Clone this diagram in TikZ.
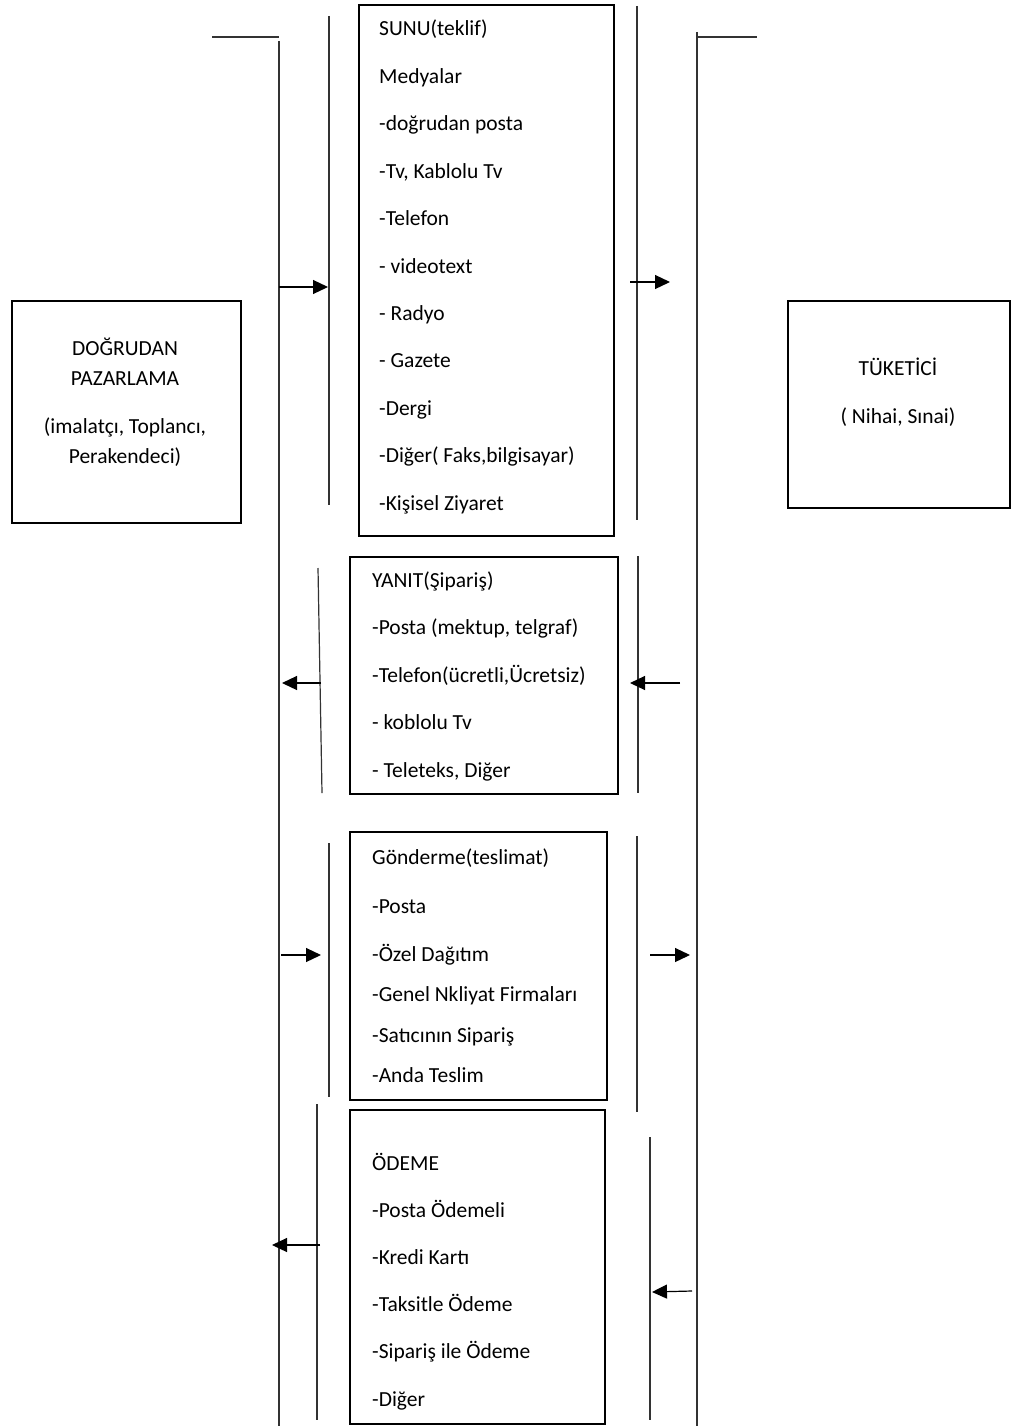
\documentclass[tikz,border=0pt]{standalone}
\usepackage{fontspec}
\setmainfont{Carlito}
\usetikzlibrary{arrows.meta}
\begin{document}
\begin{tikzpicture}[x=1pt,y=-1pt,
  box/.style={draw,line width=2pt,inner sep=0pt,anchor=north west},
  vline/.style={line width=1.2pt,draw=black!80},
  arr/.style={line width=1.2pt,-{Triangle[length=15pt,width=14pt]}},
  txt/.style={inner sep=0pt,anchor=base west,font=\fontsize{21.5}{25}\selectfont},
  ctxt/.style={inner sep=0pt,anchor=base,font=\fontsize{21.5}{25}\selectfont}]
\useasboundingbox (0,0) rectangle (1011,1426);

% side boxes
\node[box,minimum width=229pt,minimum height=222pt] (dp) at (11,300) {};
\node[ctxt] (dp1) at (125,355) {DOĞRUDAN};
\node[ctxt] (dp2) at (125,385) {PAZARLAMA};
\node[ctxt] (dp3) at (125,433) {(imalatçı, Toplancı,};
\node[ctxt] (dp4) at (125,463) {Perakendeci)};

\node[box,minimum width=222pt,minimum height=207pt] (tk) at (787,300) {};
\node[ctxt] (tk1) at (898,375) {TÜKETİCİ};
\node[ctxt] (tk2) at (898,423) {( Nihai, Sınai)};

% long verticals
\coordinate (lh1) at (212,37); \coordinate (lh2) at (279,37);
\coordinate (lv1) at (279,41); \coordinate (lv2) at (279,1426);
\draw[vline] (lh1) -- (lh2);
\draw[vline] (lv1) -- (lv2);
\coordinate (rh1) at (697,37); \coordinate (rh2) at (757,37);
\coordinate (rv1) at (697,32); \coordinate (rv2) at (697,1426);
\draw[vline] (rh1) -- (rh2);
\draw[vline] (rv1) -- (rv2);

% SUNU
\node[box,minimum width=255pt,minimum height=531pt] (sunu) at (358,4) {};
\foreach \t [count=\i] in {SUNU(teklif),Medyalar,-doğrudan posta,{-Tv, Kablolu Tv},-Telefon,- videotext,- Radyo,- Gazete,-Dergi,{-Diğer( Faks,bilgisayar)},-Kişisel Ziyaret}
  \node[txt] (s\i) at (379,{36+(\i-1)*47.4}) {\t};
\coordinate (s-l1) at (329,16); \coordinate (s-l2) at (329,505);
\coordinate (s-r1) at (637,6); \coordinate (s-r2) at (637,520);
\draw[vline] (s-l1) -- (s-l2);
\draw[vline] (s-r1) -- (s-r2);
\coordinate (a1s) at (279,287); \coordinate (a1e) at (328,287);
\coordinate (a2s) at (630,282); \coordinate (a2e) at (670,282);
\draw[arr] (a1s) -- (a1e);
\draw[arr] (a2s) -- (a2e);

% YANIT
\node[box,minimum width=268pt,minimum height=237pt] (yanit) at (349,556) {};
\foreach \t [count=\i] in {YANIT(Şipariş),{-Posta (mektup, telgraf)},{-Telefon(ücretli,Ücretsiz)},- koblolu Tv,{- Teleteks, Diğer}}
  \node[txt] (y\i) at (372,{587+(\i-1)*47.5}) {\t};
\coordinate (y-l1) at (318,568); \coordinate (y-l2) at (322,793);
\coordinate (y-r1) at (638,556); \coordinate (y-r2) at (638,793);
\draw[vline] (y-l1) -- (y-l2);
\draw[vline] (y-r1) -- (y-r2);
\coordinate (a3s) at (321,683); \coordinate (a3e) at (282,683);
\coordinate (a4s) at (680,683); \coordinate (a4e) at (630,683);
\draw[arr] (a3s) -- (a3e);
\draw[arr] (a4s) -- (a4e);

% GONDERME
\node[box,minimum width=257pt,minimum height=268pt] (gon) at (349,831) {};
\node[txt] (g1) at (372,864) {Gönderme(teslimat)};
\node[txt] (g2) at (372,913) {-Posta};
\node[txt] (g3) at (372,961) {-Özel Dağıtım};
\node[txt] (g4) at (372,1001) {-Genel Nkliyat Firmaları};
\node[txt] (g5) at (372,1042) {-Satıcının Sipariş};
\node[txt] (g6) at (372,1082) {-Anda Teslim};
\coordinate (g-l1) at (329,843); \coordinate (g-l2) at (329,1097);
\coordinate (g-r1) at (637,836); \coordinate (g-r2) at (637,1112);
\draw[vline] (g-l1) -- (g-l2);
\draw[vline] (g-r1) -- (g-r2);
\coordinate (a5s) at (281,955); \coordinate (a5e) at (321,955);
\coordinate (a6s) at (650,955); \coordinate (a6e) at (690,955);
\draw[arr] (a5s) -- (a5e);
\draw[arr] (a6s) -- (a6e);

% ODEME
\node[box,minimum width=255pt,minimum height=314pt] (ode) at (349,1109) {};
\foreach \t [count=\i] in {ÖDEME,-Posta Ödemeli,-Kredi Kartı,-Taksitle Ödeme,-Sipariş ile Ödeme,-Diğer}
  \node[txt] (o\i) at (372,{1170+(\i-1)*47.2}) {\t};
\coordinate (o-l1) at (317,1104); \coordinate (o-l2) at (317,1420);
\coordinate (o-r1) at (650,1137); \coordinate (o-r2) at (650,1420);
\draw[vline] (o-l1) -- (o-l2);
\draw[vline] (o-r1) -- (o-r2);
\coordinate (a7s) at (320,1245); \coordinate (a7e) at (272,1245);
\coordinate (a8s) at (692,1291); \coordinate (a8e) at (652,1292);
\draw[arr] (a7s) -- (a7e);
\draw[arr] (a8s) -- (a8e);
\end{tikzpicture}
\end{document}
